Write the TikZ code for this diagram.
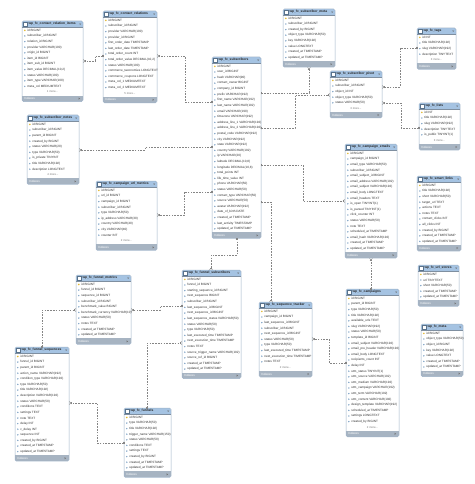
\documentclass[tikz,border=0pt]{standalone}
\usepackage{fontspec}
\setmainfont{Liberation Sans}
\usetikzlibrary{arrows.meta}
\definecolor{erBorder}{HTML}{9FB3C8}
\definecolor{erHead}{HTML}{A5C3E2}
\definecolor{erFoot}{HTML}{A7B4C2}
\definecolor{erLine}{HTML}{858585}
\definecolor{erText}{HTML}{303030}
\definecolor{erIcon}{HTML}{7FA3C6}
\definecolor{erKey}{HTML}{E3B82E}
\tikzset{
  tblbox/.style={draw=none, fill=white, inner sep=0pt, outer sep=0pt},
  rowtext/.style={anchor=west, inner sep=0pt, font=\fontsize{3.1}{3.6}\selectfont, text=erText},
  titletext/.style={anchor=west, inner sep=0pt, font=\bfseries\fontsize{3.3}{3.8}\selectfont, text=black!85},
  moretext/.style={anchor=center, inner sep=0pt, font=\fontsize{2.8}{3.2}\selectfont, text=black!55},
  foottext/.style={anchor=west, inner sep=0pt, font=\fontsize{3}{3.4}\selectfont, text=white},
  rel/.style={draw=erLine, line width=0.4pt, dash pattern=on 1.6pt off 1.2pt,
    arrows={Bar[width=2.6pt] Bar[width=2.6pt]}-{Bar[width=2.6pt] Straight Barb[reversed,length=1.6pt,width=3pt]}},
}
\newcommand\erTable[7]{%
  \def\erN{0}%
  \foreach \erRow [count=\i] in {#6} {\xdef\erN{\i}}%
  \def\erMoreText{#7}%
  \ifx\erMoreText\empty\def\erM{0}\else\def\erM{1}\fi
  \pgfmathsetmacro\erH{6.2+5.6*(\erN+\erM)+1.2+6}%
  \node[tblbox, minimum width=#4pt, minimum height=\erH pt, anchor=north west] (#1) at (#2,-#3) {};
  \begin{scope}
    \clip[rounded corners=1.5pt] (#1.north west) rectangle (#1.south east);
    \fill[erHead] (#1.north west) rectangle ([yshift=-6.2pt]#1.north east);
    \fill[erFoot] ([yshift=6pt]#1.south west) rectangle (#1.south east);
  \end{scope}
  \draw[erBorder, line width=0.5pt, rounded corners=1.5pt] (#1.north west) rectangle (#1.south east);
  \draw[erBorder!80!black, line width=0.3pt] ([yshift=-6.2pt]#1.north west) -- ([yshift=-6.2pt]#1.north east);
  \draw[fill=white, draw=erIcon!70!black, line width=0.3pt] ([xshift=1.6pt,yshift=-1.5pt]#1.north west) rectangle ++(3.4pt,-3.2pt);
  \node[titletext] (#1-t) at ([xshift=6.3pt,yshift=-3.1pt]#1.north west) {#5};
  \fill[black!60] ([xshift=-3.8pt,yshift=-2.6pt]#1.north east) -- ++(2pt,0) -- ++(-1pt,-1.2pt) -- cycle;
  \foreach \erRow [count=\i] in {#6} {%
    \pgfmathsetmacro\erY{-(#3+6.2+5.6*(\i-0.5)+0.4)}%
    \node[rowtext] (#1-r\i) at (#2+5.2,\erY) {\erRow};
    \ifnum\i=1
      \fill[erKey] (#2+2.8,\erY+0.9) -- ++(0.9,-0.9) -- ++(-0.9,-0.9) -- ++(-0.9,0.9) -- cycle;
    \else
      \fill[erIcon] (#2+2.8,\erY+0.8) -- ++(0.8,-0.8) -- ++(-0.8,-0.8) -- ++(-0.8,0.8) -- cycle;
    \fi
  }%
  \ifnum\erM=1
    \pgfmathsetmacro\erYm{-(#3+6.2+5.6*(\erN+0.5)+0.4)}%
    \node[moretext] (#1-m) at (#2+#4/2,\erYm) {#7};
  \fi
  \node[foottext] (#1-f) at ([xshift=2.2pt,yshift=3pt]#1.south west) {Indexes};
  \fill[black!55] ([xshift=-3pt,yshift=3pt]#1.south east) -- ++(-1.3pt,1pt) -- ++(0,-2pt) -- cycle;
}
\begin{document}
\catcode`\_=12
\begin{tikzpicture}[x=1pt,y=1pt]
\fill[white] (0,0) rectangle (474,-484);
\useasboundingbox (0,0) rectangle (474,-484);

\erTable{items}{22}{21}{61}{wp_fc_contact_relation_items}{id BIGINT, subscriber_id BIGINT, relation_id BIGINT, provider VARCHAR(100), origin_id BIGINT, item_id BIGINT, item_sub_id BIGINT, {item_value DECIMAL(10,2)}, status VARCHAR(100), item_type VARCHAR(100), meta_col MEDIUMTEXT}{1 more...}

\erTable{rels}{103}{11}{54}{wp_fc_contact_relations}{id BIGINT, subscriber_id BIGINT, provider VARCHAR(100), provider_id BIGINT, first_order_date TIMESTAMP, last_order_date TIMESTAMP, total_order_count INT, {total_order_value DECIMAL(10,2)}, status VARCHAR(100), commerce_taxonomies LONGTEXT, commerce_coupons LONGTEXT, meta_col_1 MEDIUMTEXT, meta_col_2 MEDIUMTEXT}{5 more...}

\erTable{notes}{27}{115}{52}{wp_fc_subscriber_notes}{id BIGINT, subscriber_id BIGINT, parent_id BIGINT, created_by BIGINT, status VARCHAR(20), type VARCHAR(50), is_private TINYINT, title VARCHAR(192), description LONGTEXT}{4 more...}

\erTable{smeta}{283}{9}{52}{wp_fc_subscriber_meta}{id BIGINT, subscriber_id BIGINT, created_by BIGINT, object_type VARCHAR(50), key VARCHAR(192), value LONGTEXT, created_at TIMESTAMP, updated_at TIMESTAMP}{}

\erTable{subs}{212}{57}{49}{wp_fc_subscribers}{id BIGINT, user_id BIGINT, hash VARCHAR(90), contact_owner BIGINT, company_id BIGINT, prefix VARCHAR(192), first_name VARCHAR(192), last_name VARCHAR(192), email VARCHAR(190), timezone VARCHAR(192), address_line_1 VARCHAR(192), address_line_2 VARCHAR(192), postal_code VARCHAR(192), city VARCHAR(192), state VARCHAR(192), country VARCHAR(192), ip VARCHAR(20), {latitude DECIMAL(10,8)}, {longitude DECIMAL(10,8)}, total_points INT, life_time_value INT, phone VARCHAR(50), status VARCHAR(50), contact_type VARCHAR(50), source VARCHAR(50), avatar VARCHAR(192), date_of_birth DATE, created_at TIMESTAMP, last_activity TIMESTAMP, updated_at TIMESTAMP}{}

\erTable{tags}{417}{28}{39}{wp_fc_tags}{id INT, title VARCHAR(192), slug VARCHAR(192), description TINYTEXT}{3 more...}

\erTable{pivot}{330}{71}{52}{wp_fc_subscriber_pivot}{id BIGINT, subscriber_id BIGINT, object_id INT, object_type VARCHAR(50), status VARCHAR(50)}{3 more...}

\erTable{lists}{419}{103}{41}{wp_fc_lists}{id INT, title VARCHAR(192), slug VARCHAR(192), description TINYTEXT, is_public TINYINT(1)}{3 more...}

\erTable{cemails}{345}{144}{52}{wp_fc_campaign_emails}{id BIGINT, campaign_id BIGINT, email_type VARCHAR(50), subscriber_id BIGINT, email_subject_id BIGINT, email_address VARCHAR(192), email_subject VARCHAR(192), email_body LONGTEXT, email_headers TEXT, is_open TINYINT(1), is_parsed TINYINT(1), click_counter INT, status VARCHAR(50), note TEXT, scheduled_at TIMESTAMP, email_hash VARCHAR(192), created_at TIMESTAMP, updated_at TIMESTAMP}{}

\erTable{slinks}{417}{176}{44}{wp_fc_smart_links}{id BIGINT, title VARCHAR(192), short VARCHAR(50), target_url TEXT, actions TEXT, notes TEXT, contact_clicks INT, all_clicks INT, created_by BIGINT, created_at TIMESTAMP, updated_at TIMESTAMP}{}

\erTable{urls}{418}{265}{41}{wp_fc_url_stores}{id BIGINT, url TINYTEXT, short VARCHAR(50), created_at TIMESTAMP, updated_at TIMESTAMP}{}

\erTable{umetrics}{96}{181}{61}{wp_fc_campaign_url_metrics}{id BIGINT, url_id BIGINT, campaign_id BIGINT, subscriber_id BIGINT, type VARCHAR(50), ip_address VARCHAR(30), country VARCHAR(40), city VARCHAR(40), counter INT}{2 more...}

\erTable{fmetrics}{76}{275}{55}{wp_fc_funnel_metrics}{id BIGINT, funnel_id BIGINT, sequence_id BIGINT, subscriber_id BIGINT, benchmark_value BIGINT, benchmark_currency VARCHAR(10), status VARCHAR(50), notes TEXT, created_at TIMESTAMP, updated_at TIMESTAMP}{}

\erTable{fsubs}{182}{270}{59}{wp_fc_funnel_subscribers}{id BIGINT, funnel_id BIGINT, starting_sequence_id BIGINT, next_sequence BIGINT, subscriber_id BIGINT, last_sequence_id BIGINT, next_sequence_id BIGINT, last_sequence_status VARCHAR(50), status VARCHAR(50), type VARCHAR(50), last_executed_time TIMESTAMP, next_execution_time TIMESTAMP, notes TEXT, source_trigger_name VARCHAR(192), source_ref_id BIGINT, created_at TIMESTAMP, updated_at TIMESTAMP}{}

\erTable{strack}{259}{302}{53}{wp_fc_sequence_tracker}{id BIGINT, campaign_id BIGINT, last_sequence_id BIGINT, subscriber_id BIGINT, next_sequence_id BIGINT, status VARCHAR(50), type VARCHAR(50), last_executed_time TIMESTAMP, next_execution_time TIMESTAMP, notes TEXT}{2 more...}

\erTable{camps}{346}{289}{53}{wp_fc_campaigns}{id BIGINT, parent_id BIGINT, type VARCHAR(50), title VARCHAR(192), available_urls TEXT, slug VARCHAR(192), status VARCHAR(50), template_id BIGINT, email_subject VARCHAR(192), email_pre_header VARCHAR(192), email_body LONGTEXT, recipients_count INT, delay INT, utm_status TINYINT(1), utm_source VARCHAR(192), utm_medium VARCHAR(192), utm_campaign VARCHAR(192), utm_term VARCHAR(192), utm_content VARCHAR(192), design_template VARCHAR(192), scheduled_at TIMESTAMP, settings LONGTEXT, created_by BIGINT}{2 more...}

\erTable{fcmeta}{421}{324}{42}{wp_fc_meta}{id BIGINT, object_type VARCHAR(50), object_id BIGINT, key VARCHAR(192), value LONGTEXT, created_at TIMESTAMP, updated_at TIMESTAMP}{}

\erTable{fseq}{15}{347}{54}{wp_fc_funnel_sequences}{id BIGINT, funnel_id BIGINT, parent_id BIGINT, action_name VARCHAR(192), condition_type VARCHAR(192), type VARCHAR(50), title VARCHAR(192), description VARCHAR(192), status VARCHAR(50), conditions TEXT, settings TEXT, note TEXT, delay INT, c_delay INT, sequence INT, created_by BIGINT, created_at TIMESTAMP, updated_at TIMESTAMP}{}

\erTable{funnels}{124}{408}{47}{wp_fc_funnels}{id BIGINT, type VARCHAR(50), title VARCHAR(192), trigger_name VARCHAR(150), status VARCHAR(50), conditions TEXT, settings TEXT, created_by BIGINT, created_at TIMESTAMP, updated_at TIMESTAMP}{}

% connectors
\draw[rel] (rels.west |- 0,-56) -- (95,-56) -- (95,-61) -- (items.east |- 0,-61);
\draw[rel] (subs.west |- 0,-102) -- (185,-102) -- (185,-56) -- (rels.east |- 0,-56);
\draw[rel] (subs.west |- 0,-147) -- (145,-147) -- (145,-150) -- (notes.east |- 0,-150);
\draw[rel] (subs.east |- 0,-93) -- (309,-93) -- (smeta.south -| 309,0);
\draw[rel] (subs.east |- 0,-128) -- (295,-128) -- (295,-95) -- (pivot.west |- 0,-95);
\draw[rel] (tags.west |- 0,-48) -- (400,-48) -- (400,-87) -- (pivot.east |- 0,-87);
\draw[rel] (lists.west |- 0,-128) -- (401,-128) -- (401,-103) -- (pivot.east |- 0,-103);
\draw[rel] (subs.east |- 0,-165) -- (303,-165) -- (303,-201) -- (cemails.west |- 0,-201);
\draw[rel] (subs.west |- 0,-192) -- (184,-192) -- (184,-215) -- (umetrics.east |- 0,-215);
\draw[rel] (subs.south -| 237,0) -- (237,-255) -- (211,-255) -- (fsubs.north -| 211,0);
\draw[rel] (subs.east |- 0,-202) -- (271,-202) -- (strack.north -| 271,0);
\draw[rel] (camps.north -| 371,0) -- (cemails.south -| 371,0);
\draw[rel] (fseq.north -| 42,0) -- (42,-310) -- (fmetrics.west |- 0,-310);
\draw[rel] (fsubs.west |- 0,-306) -- (160,-306) -- (160,-310) -- (fmetrics.east |- 0,-310);
\draw[rel] (funnels.north -| 147,0) -- (147,-343) -- (fsubs.west |- 0,-343);
\draw[rel] (funnels.west |- 0,-443) -- (97,-443) -- (97,-403) -- (fseq.east |- 0,-403);
\draw[rel] (camps.west |- 0,-363) -- (329,-363) -- (329,-339) -- (strack.east |- 0,-339);
\end{tikzpicture}
\end{document}
